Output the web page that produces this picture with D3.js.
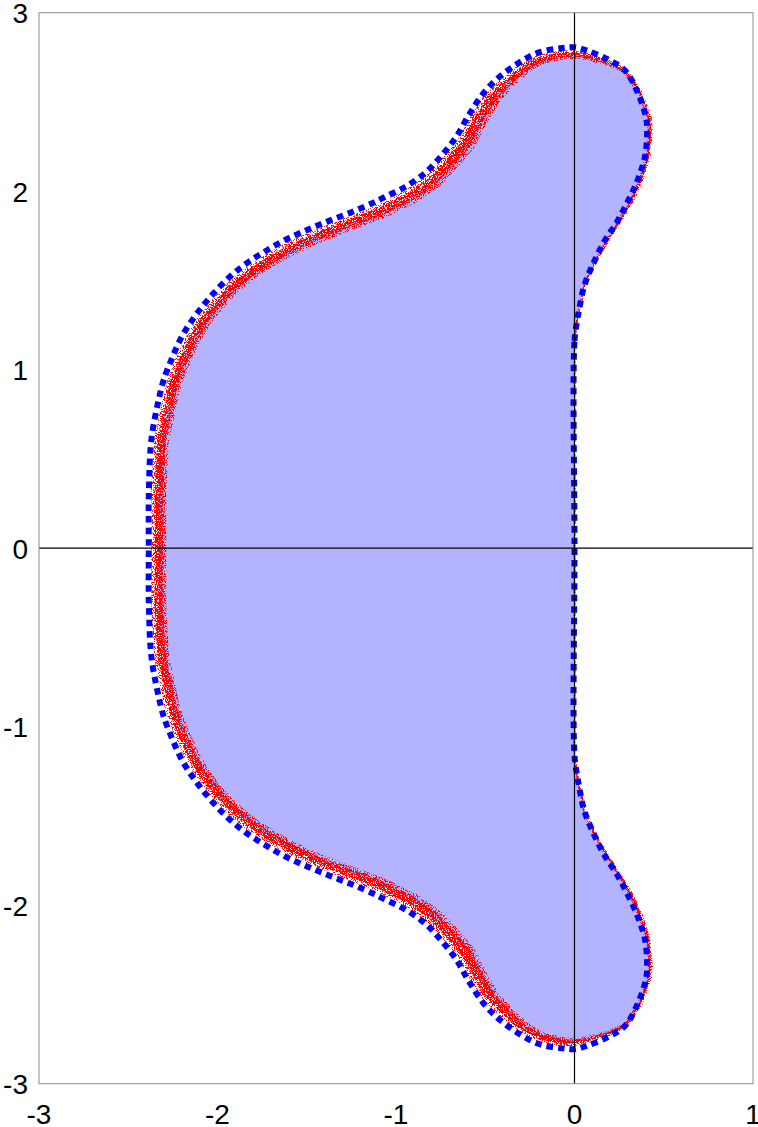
<!DOCTYPE html>
<html>
<head>
<meta charset="utf-8">
<script src="https://cdn.jsdelivr.net/npm/d3@7"></script>
<style>
  body { margin: 0; background: #fff; }
  text { font-family: "Liberation Sans", Arial, Helvetica, sans-serif; font-size: 28px; fill: #000; }
</style>
</head>
<body>
<svg id="chart" width="758" height="1127"></svg>
<script>
const xTicks = [-3, -2, -1, 0, 1];
const yTicks = [-3, -2, -1, 0, 1, 2, 3];

// exact boundary (blue dotted), upper half, from the origin round the top to the real axis
const boundaryX = [0, 0, 0.015, 0.027, 0.055, 0.105, 0.166, 0.239, 0.301, 0.357, 0.396, 0.407, 0.402,
    0.357, 0.284, 0.189, 0.071, 0.004, -0.069, -0.203, -0.320, -0.432, -0.516, -0.594, -0.662, -0.745,
    -0.835, -0.947, -1.070, -1.126, -1.243, -1.372, -1.495, -1.619, -1.736, -1.848, -1.949, -2.044,
    -2.128, -2.200, -2.256, -2.301, -2.318, -2.369, -2.384, -2.385];
const boundaryY = [0, 1.162, 1.275, 1.342, 1.471, 1.594, 1.717, 1.829, 1.947, 2.070, 2.199, 2.339, 2.406,
    2.546, 2.675, 2.737, 2.787, 2.806, 2.802, 2.776, 2.714, 2.630, 2.541, 2.423, 2.305, 2.199,
    2.104, 2.025, 1.964, 1.936, 1.885, 1.835, 1.784, 1.728, 1.661, 1.588, 1.504, 1.403,
    1.297, 1.185, 1.062, 0.944, 0.882, 0.619, 0.339, 0];

// edge of the sampled region (red points), upper half, same direction
const sampleX = [0, 0, 0.015, 0.027, 0.055, 0.109, 0.176, 0.245, 0.316, 0.372, 0.412, 0.424, 0.418,
    0.367, 0.284, 0.181, 0.060, 0.000, -0.063, -0.189, -0.296, -0.395, -0.472, -0.542, -0.606, -0.698,
    -0.795, -0.916, -1.042, -1.101, -1.222, -1.351, -1.473, -1.592, -1.707, -1.815, -1.910, -2.001,
    -2.082, -2.146, -2.199, -2.241, -2.258, -2.312, -2.329, -2.329];
const sampleY = [0, 1.162, 1.275, 1.342, 1.471, 1.592, 1.711, 1.824, 1.939, 2.064, 2.196, 2.339, 2.410,
    2.551, 2.675, 2.722, 2.756, 2.765, 2.765, 2.739, 2.677, 2.588, 2.506, 2.390, 2.268, 2.159,
    2.057, 1.972, 1.909, 1.880, 1.833, 1.783, 1.733, 1.678, 1.613, 1.543, 1.463, 1.367,
    1.264, 1.155, 1.038, 0.929, 0.867, 0.613, 0.339, 0];
// width of the cloud of red points across the edge
const sampleSpread = [0.011, 0.011, 0.011, 0.017, 0.017, 0.017, 0.022, 0.022, 0.028, 0.028, 0.028, 0.028, 0.028,
    0.028, 0.028, 0.034, 0.039, 0.045, 0.050, 0.056, 0.067, 0.078, 0.090, 0.100, 0.100, 0.100,
    0.095, 0.090, 0.084, 0.084, 0.078, 0.078, 0.078, 0.078, 0.078, 0.078, 0.078, 0.078,
    0.078, 0.084, 0.084, 0.084, 0.084, 0.084, 0.084, 0.084];

const W = 758, H = 1127;
const plot = {left: 39, right: 753, top: 12.7, bottom: 1083.7};

const x = d3.scaleLinear().domain([-3, 1]).range([plot.left, plot.right]);
const y = d3.scaleLinear().domain([-3, 3]).range([plot.bottom, plot.top]);

const svg = d3.select("#chart");

// closed loop: upper half, then the mirrored lower half back to the start
function loop(xs, ys, extra) {
    const upper = xs.map((v, i) => ({x: v, y: ys[i], s: extra ? extra[i] : 0}));
    const lower = upper.slice(1, -1).reverse().map(p => ({x: p.x, y: -p.y, s: p.s}));
    return upper.concat(lower);
}

const boundary = loop(boundaryX, boundaryY);
const sample = loop(sampleX, sampleY, sampleSpread);

const defs = svg.append("defs");
function speckle(id, seed, cut) {
    const f = defs.append("filter").attr("id", id)
        .attr("filterUnits", "userSpaceOnUse")
        .attr("x", 0).attr("y", 0).attr("width", W).attr("height", H);
    f.append("feTurbulence").attr("type", "fractalNoise")
        .attr("baseFrequency", 0.9).attr("numOctaves", 2).attr("seed", seed).attr("result", "n");
    f.append("feColorMatrix").attr("in", "n").attr("type", "matrix")
        .attr("values", "0 0 0 0 0  0 0 0 0 0  0 0 0 0 0  0 0 0 30 " + (-30 * cut))
        .attr("result", "m");
    f.append("feComposite").attr("in", "SourceGraphic").attr("in2", "m").attr("operator", "in");
}
speckle("sparse", 3, 0.53);
speckle("dense", 11, 0.44);

const line = d3.line().x(d => x(d.x)).y(d => y(d.y)).curve(d3.curveCatmullRomClosed);

// filled region
svg.append("path")
    .attr("d", line(sample))
    .attr("fill", "#b3b3ff")
    .attr("stroke", "none");

// red sample points along the edge
const unit = x(1) - x(0);
const segs = sample.map((p, i) => [p, sample[(i + 1) % sample.length]]);
[["sparse", 1], ["dense", 0.55]].forEach(([id, k]) => {
    svg.append("g")
        .attr("filter", "url(#" + id + ")")
        .selectAll("line")
        .data(segs)
        .join("line")
        .attr("x1", d => x(d[0].x)).attr("y1", d => y(d[0].y))
        .attr("x2", d => x(d[1].x)).attr("y2", d => y(d[1].y))
        .attr("stroke", "#ff0000")
        .attr("stroke-linecap", "round")
        .attr("stroke-width", d => Math.max(1.5, k * unit * (d[0].s + d[1].s) / 2));
});

// exact boundary
svg.append("path")
    .attr("d", line(boundary))
    .attr("fill", "none")
    .attr("stroke", "#0000ff")
    .attr("stroke-width", 6)
    .attr("stroke-dasharray", "6.5 5");

// coordinate axes
svg.append("line")
    .attr("x1", x(0)).attr("x2", x(0)).attr("y1", plot.top).attr("y2", plot.bottom)
    .attr("stroke", "#000").attr("stroke-width", 1.2);
svg.append("line")
    .attr("x1", plot.left).attr("x2", plot.right).attr("y1", y(0)).attr("y2", y(0))
    .attr("stroke", "#000").attr("stroke-width", 1.2);

// frame
svg.append("rect")
    .attr("x", plot.left).attr("y", plot.top)
    .attr("width", plot.right - plot.left).attr("height", plot.bottom - plot.top)
    .attr("fill", "none").attr("stroke", "#8c8c8c").attr("stroke-width", 1);

// tick labels
svg.append("g").selectAll("text")
    .data(xTicks)
    .join("text")
    .attr("x", d => x(d))
    .attr("y", plot.bottom + 40)
    .attr("text-anchor", "middle")
    .text(d => d);
svg.append("g").selectAll("text")
    .data(yTicks)
    .join("text")
    .attr("x", 28)
    .attr("y", d => y(d) + 10.5)
    .attr("text-anchor", "end")
    .text(d => d);
</script>
</body>
</html>
